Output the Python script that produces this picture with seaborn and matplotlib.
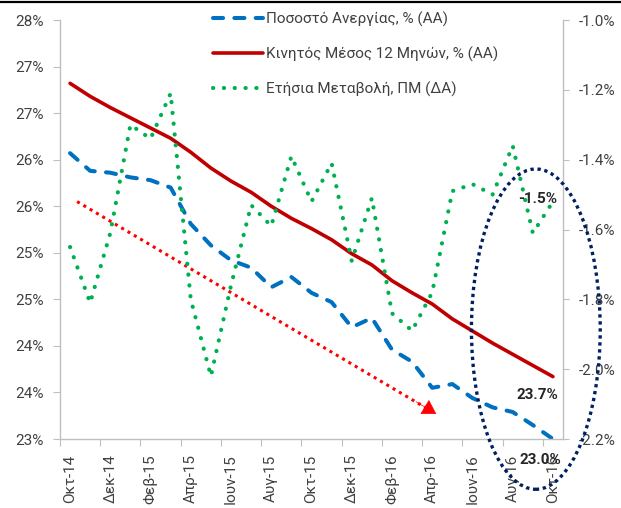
import numpy as np
import pandas as pd
import matplotlib
matplotlib.use("Agg")
import matplotlib.pyplot as plt
import seaborn as sns
from matplotlib.patches import Ellipse
from matplotlib.lines import Line2D

# ---------------- data ----------------
months = ['Οκτ-14', 'Νοε-14', 'Δεκ-14', 'Ιαν-15', 'Φεβ-15', 'Μαρ-15', 'Απρ-15',
          'Μαϊ-15', 'Ιουν-15', 'Ιουλ-15', 'Αυγ-15', 'Σεπ-15', 'Οκτ-15', 'Νοε-15',
          'Δεκ-15', 'Ιαν-16', 'Φεβ-16', 'Μαρ-16', 'Απρ-16', 'Μαϊ-16', 'Ιουν-16',
          'Ιουλ-16', 'Αυγ-16', 'Σεπ-16', 'Οκτ-16']

unemployment = [26.07, 25.88, 25.86, 25.81, 25.78, 25.70, 25.31, 25.08, 24.92,
                24.84, 24.63, 24.74, 24.57, 24.47, 24.20, 24.30, 23.96, 23.83,
                23.55, 23.59, 23.44, 23.34, 23.29, 23.15, 23.00]

moving_avg_12m = [26.82, 26.68, 26.56, 26.45, 26.34, 26.23, 26.08, 25.91, 25.77,
                  25.65, 25.50, 25.37, 25.26, 25.14, 24.99, 24.87, 24.70, 24.57,
                  24.45, 24.29, 24.16, 24.03, 23.91, 23.79, 23.67]

annual_change = [-1.65, -1.81, -1.61, -1.30, -1.34, -1.21, -1.80, -2.02, -1.76,
                 -1.53, -1.59, -1.39, -1.52, -1.41, -1.69, -1.51, -1.84, -1.89,
                 -1.78, -1.49, -1.47, -1.50, -1.36, -1.61, -1.52]

series_names = ['Ποσοστό Ανεργίας, % (ΑΑ)',
                'Κινητός Μέσος 12 Μηνών, % (ΑΑ)',
                'Ετήσια Μεταβολή, ΠΜ (ΔΑ)']

left_ticks = [23.0, 23.5, 24.0, 24.5, 25.0, 25.5, 26.0, 26.5, 27.0, 27.5]
left_tick_labels = ['23%', '24%', '24%', '25%', '25%', '26%', '26%', '27%', '27%', '28%']
right_ticks = [-2.2, -2.0, -1.8, -1.6, -1.4, -1.2, -1.0]

# ---------------- style ----------------
sns.set_style('white')
plt.rcParams['font.family'] = ['Roboto', 'DejaVu Sans']

blue = '#0070C0'
red = '#C00000'
green = '#00B050'
gray = '#BFBFBF'
txt = '#404040'

n = len(months)
df = pd.DataFrame({'idx': np.arange(n), 'unemp': unemployment,
                   'ma': moving_avg_12m, 'chg': annual_change})

fig = plt.figure(figsize=(6.21, 5.08), dpi=100)
ax = fig.add_axes([0.0966, 0.1358, 0.8100, 0.8248])
ax2 = ax.twinx()

sns.lineplot(data=df, x='idx', y='unemp', ax=ax, color=blue, lw=2.9, legend=False)
l_blue = ax.lines[-1]
l_blue.set_dashes((2.5, 2.8))
l_blue.set_dash_capstyle('round')

sns.lineplot(data=df, x='idx', y='ma', ax=ax, color=red, lw=2.6, legend=False)
l_red = ax.lines[-1]

sns.lineplot(data=df, x='idx', y='chg', ax=ax2, color=green, lw=3.0, legend=False)
l_green = ax2.lines[-1]
l_green.set_dashes((0.05, 2.55))
l_green.set_dash_capstyle('round')

# axes limits & ticks
ax.set_xlim(-0.5, n - 0.5)
ax.set_ylim(23.0, 27.5)
ax2.set_ylim(-2.2, -1.0)

ax.set_yticks(left_ticks)
ax.set_yticklabels(left_tick_labels)
ax2.set_yticks(right_ticks)
ax2.set_yticklabels([f'{v:.1f}%' for v in right_ticks])

ax.set_xticks(np.arange(0, n, 2))
ax.set_xticklabels(months[::2], rotation=90)
ax.set_xticks(np.arange(-0.5, n - 1, 2), minor=True)

ax.set_xlabel('')
ax.set_ylabel('')
ax2.set_ylabel('')

ax.tick_params(axis='y', direction='out', length=5, width=0.8, color=gray,
               labelsize=11, labelcolor=txt, pad=6.5, left=True)
ax2.tick_params(axis='y', direction='out', length=4, width=0.8, color=gray,
                labelsize=11, labelcolor=txt, pad=7, right=True)
ax.tick_params(axis='x', which='major', length=0, labelsize=11, labelcolor=txt, pad=11)
ax.tick_params(axis='x', which='minor', direction='out', length=5, width=0.8,
               color=gray, bottom=True)

for a in (ax, ax2):
    a.spines['top'].set_visible(False)
ax.spines['right'].set_visible(False)
ax2.spines['left'].set_visible(False)
ax2.spines['bottom'].set_visible(False)
ax.spines['left'].set_color(gray)
ax.spines['bottom'].set_color(gray)
ax2.spines['right'].set_color(gray)
for s in ('left', 'bottom'):
    ax.spines[s].set_linewidth(1.0)
ax2.spines['right'].set_linewidth(1.0)

# legend
fig.legend([l_blue, l_red, l_green], series_names, loc='upper left',
           bbox_to_anchor=(0.343, 0.978), frameon=False, fontsize=11,
           handlelength=3.3, handletextpad=0.2, labelspacing=1.3,
           borderaxespad=0, borderpad=0, labelcolor=txt)

# trend arrow (red dotted)
x0, y0 = 0.35, 25.55
x1, y1 = 18.2, 23.27
ax.plot([x0, x1 - 0.4], [y0, y1 + 0.05], color='#FF0000', lw=2.2,
        dashes=(1, 1.4), zorder=4)
ax.annotate('', xy=(x1, y1), xytext=(x1 - 1.0, y1 + 0.13),
            arrowprops=dict(arrowstyle='-|>,head_length=0.9,head_width=0.55',
                            color='#FF0000', lw=0.5, shrinkA=0, shrinkB=0),
            zorder=5)

# ellipse highlight
ell = Ellipse((23.15, 24.18), width=6.4, height=3.44, transform=ax.transData,
              fill=False, edgecolor='#002060', lw=2.4, linestyle=(0, (1, 1.1)),
              clip_on=False, zorder=6)
ax2.add_patch(ell)

# value labels
ax2.annotate(f'{annual_change[-1]:.1f}%', xy=(n - 1, annual_change[-1]),
             xytext=(-10.8, 2.2), textcoords='offset points', ha='center',
             va='center', fontsize=11, fontweight='bold', color='#262626')
ax.annotate(f'{moving_avg_12m[-1]:.1f}%', xy=(n - 1, moving_avg_12m[-1]),
            xytext=(-11.5, -13), textcoords='offset points', ha='center',
            va='center', fontsize=11, fontweight='bold', color='#262626')
ax.annotate(f'{unemployment[-1]:.1f}%', xy=(n - 1, unemployment[-1]),
            xytext=(-9.4, -15.1), textcoords='offset points', ha='center',
            va='center', fontsize=11, fontweight='bold', color='#262626',
            annotation_clip=False)

# top border line of the screenshot
fig.add_artist(Line2D([0, 1], [0.997, 0.997], color='black', lw=1.6,
                      transform=fig.transFigure))

fig.savefig('out.png', dpi=100)
